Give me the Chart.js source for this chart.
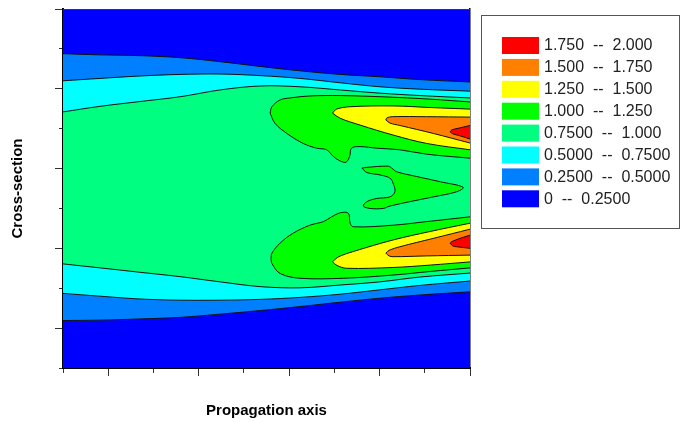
<!DOCTYPE html>
<html>
<head>
<meta charset="utf-8">
<script src="https://cdn.jsdelivr.net/npm/chart.js@4.4.0/dist/chart.umd.min.js"></script>
<style>
  body { margin: 0; background: #fff; }
  #wrap { width: 681px; height: 422px; }
</style>
</head>
<body>
<div id="wrap"><canvas id="contourChart" width="681" height="422"></canvas></div>
<script>
// tick positions along both axes (no labels shown), odd values get the long tick
const tickValues = [0, 1, 2, 3, 4, 5, 6, 7, 8, 9];
const majorTicks = [1, 3, 5, 7, 9];

// contour levels, lowest first
const levelLabels = ['0  --  0.2500', '0.2500  --  0.5000', '0.5000  --  0.7500', '0.7500  --  1.000',
                     '1.000  --  1.250', '1.250  --  1.500', '1.500  --  1.750', '1.750  --  2.000'];
const levelColors = ['#0000FF', '#0080FF', '#00FFFF', '#00FF80', '#00FF00', '#FFFF00', '#FF8000', '#FF0000'];

// contour lines [propagation, cross-section]
const domainTop = [[0, 9], [9, 9]];
const c025Top = [[0, 7.88], [0.82, 7.85], [1.70, 7.83], [2.59, 7.78], [3.47, 7.68], [4.36, 7.56], [5.24, 7.45], [6.13, 7.36], [7.01, 7.30], [7.89, 7.23], [9, 7.17]];
const c025Bot = [[0, 1.19], [0.82, 1.20], [1.70, 1.23], [2.59, 1.27], [3.47, 1.35], [4.36, 1.44], [5.24, 1.54], [6.13, 1.65], [7.01, 1.75], [7.89, 1.83], [9, 1.91]];
const c050Top = [[0, 7.20], [0.82, 7.26], [1.70, 7.32], [2.59, 7.36], [3.47, 7.37], [4.36, 7.33], [5.24, 7.26], [6.13, 7.15], [7.01, 7.05], [7.89, 6.99], [9, 6.94]];
const c050Bot = [[0, 1.87], [0.82, 1.80], [1.70, 1.73], [2.59, 1.70], [3.47, 1.70], [4.36, 1.72], [5.24, 1.77], [6.13, 1.85], [7.01, 1.96], [7.89, 2.07], [9, 2.18]];
const c075Top = [[0, 6.42], [0.82, 6.56], [1.70, 6.68], [2.59, 6.80], [3.47, 6.97], [4.36, 7.07], [5.24, 7.05], [6.13, 6.97], [7.01, 6.89], [7.89, 6.83], [9, 6.77]];
const c075Bot = [[0, 2.61], [0.82, 2.51], [1.70, 2.40], [2.59, 2.29], [3.47, 2.16], [4.36, 2.04], [5.24, 2.01], [6.13, 2.08], [7.01, 2.16], [7.89, 2.28], [9, 2.38]];

// upper lobes (Hi) and lower lobes (Lo), each as outer/inner edge from the tip to the right border
const c100HiOut = [[4.58, 6.39], [4.62, 6.55], [4.80, 6.72], [5.02, 6.77], [5.46, 6.82], [6.13, 6.83], [6.79, 6.81], [7.45, 6.78], [8.12, 6.74], [9, 6.67]];
const c100HiIn = [[4.58, 6.39], [4.69, 6.13], [4.95, 5.88], [5.31, 5.63], [5.61, 5.51], [5.83, 5.47], [5.98, 5.30], [6.13, 5.19], [6.26, 5.16], [6.34, 5.31],
                  [6.38, 5.51], [6.57, 5.55], [6.94, 5.51], [7.45, 5.47], [8.04, 5.36], [9, 5.26]];
const c100LoIn = [[4.60, 2.75], [4.62, 2.88], [4.80, 3.13], [5.09, 3.38], [5.46, 3.58], [5.76, 3.67], [5.94, 3.79], [6.13, 3.89], [6.31, 3.88], [6.35, 3.63],
                  [6.42, 3.54], [7.30, 3.58], [8.04, 3.67], [9, 3.79]];
const c100LoOut = [[4.60, 2.75], [4.62, 2.62], [4.80, 2.37], [5.24, 2.25], [6.20, 2.25], [7.30, 2.33], [8.12, 2.42], [9, 2.51]];
const c100Mid = [[6.61, 5.01], [6.72, 5.03], [7.19, 5.06], [7.27, 5.01], [7.38, 4.92], [7.82, 4.80], [8.34, 4.67], [8.85, 4.53], [8.71, 4.42], [8.19, 4.29], [7.67, 4.17], [7.23, 4.06],
                 [7.08, 4.00], [6.79, 4.00], [6.64, 4.06], [6.72, 4.17], [6.94, 4.25], [7.23, 4.29], [7.34, 4.42], [7.30, 4.63], [7.23, 4.76], [7.01, 4.84], [6.72, 4.90], [6.61, 5.01]];
const c125HiOut = [[5.96, 6.39], [6.05, 6.49], [6.35, 6.55], [7.30, 6.57], [8.12, 6.53], [9, 6.49]];
const c125HiIn = [[5.96, 6.39], [6.13, 6.26], [6.57, 6.09], [7.30, 5.84], [8.04, 5.63], [9, 5.47]];
const c125LoIn = [[5.96, 2.66], [6.08, 2.78], [6.42, 2.92], [7.30, 3.21], [8.19, 3.44], [9, 3.63]];
const c125LoOut = [[5.96, 2.66], [6.06, 2.57], [6.27, 2.50], [7.30, 2.52], [8.12, 2.58], [9, 2.66]];
const c150HiOut = [[7.14, 6.22], [7.16, 6.27], [7.28, 6.30], [8.04, 6.30], [9, 6.29]];
const c150HiIn = [[7.14, 6.22], [7.23, 6.14], [7.45, 6.08], [8.19, 5.88], [9, 5.64]];
const c150LoIn = [[7.14, 2.88], [7.21, 2.95], [7.45, 3.04], [8.19, 3.25], [9, 3.48]];
const c150LoOut = [[7.14, 2.88], [7.21, 2.81], [7.30, 2.79], [8.04, 2.81], [9, 2.83]];
const c175HiOut = [[8.56, 5.92], [8.60, 5.97], [8.78, 6.02], [9, 6.08]];
const c175HiIn = [[8.56, 5.92], [8.62, 5.87], [8.78, 5.82], [9, 5.74]];
const c175LoIn = [[8.56, 3.13], [8.60, 3.17], [8.78, 3.25], [9, 3.33]];
const c175LoOut = [[8.56, 3.13], [8.62, 3.06], [8.78, 3.03], [9, 3.00]];

// each region is filled between two lines (upper/lower) or inside a closed loop
const regions = [
    { level: 1, upper: c025Top, lower: c025Bot },
    { level: 2, upper: c050Top, lower: c050Bot },
    { level: 3, upper: c075Top, lower: c075Bot },
    { level: 4, upper: c100HiOut, lower: c100HiIn },
    { level: 4, loop: c100Mid },
    { level: 4, upper: c100LoIn, lower: c100LoOut },
    { level: 5, upper: c125HiOut, lower: c125HiIn },
    { level: 5, upper: c125LoIn, lower: c125LoOut },
    { level: 6, upper: c150HiOut, lower: c150HiIn },
    { level: 6, upper: c150LoIn, lower: c150LoOut },
    { level: 7, upper: c175HiOut, lower: c175HiIn },
    { level: 7, upper: c175LoIn, lower: c175LoOut }
];

const toXY = pts => pts.map(p => ({ x: p[0], y: p[1] }));
const isMajor = v => majorTicks.includes(v);
const titleFont = { family: '"Liberation Sans", Arial, sans-serif', size: 15, weight: 'bold' };

const datasets = [{
    data: toXY(domainTop), fill: 'start', backgroundColor: levelColors[0],
    borderColor: '#555', borderWidth: 1, tension: 0, pointRadius: 0, order: 10
}];
regions.forEach(r => {
    const base = { borderColor: '#111', borderWidth: 1, tension: 0.35, pointRadius: 0, order: 10 - r.level };
    if (r.loop) {
        datasets.push({ ...base, data: toXY(r.loop), fill: 'shape', backgroundColor: levelColors[r.level] });
    } else {
        datasets.push({ ...base, data: toXY(r.lower), fill: false });
        datasets.push({ ...base, data: toXY(r.upper), fill: '-1', backgroundColor: levelColors[r.level] });
    }
});

// boxed legend on the right, highest level on top
const legendBox = {
    id: 'legendBox',
    afterDraw(chart) {
        const ctx = chart.ctx;
        const left = chart.chartArea.right + 11;
        ctx.save();
        ctx.strokeStyle = '#555';
        ctx.lineWidth = 1;
        ctx.strokeRect(left + 0.5, 15.5, 198, 213);
        ctx.font = '16px "Liberation Sans", Arial, sans-serif';
        ctx.textBaseline = 'middle';
        for (let i = 0; i < levelLabels.length; i++) {
            const lvl = levelLabels.length - 1 - i;
            const y = 37 + i * 21.9;
            ctx.fillStyle = levelColors[lvl];
            ctx.fillRect(left + 21, y, 37, 17);
            ctx.fillStyle = '#222';
            ctx.fillText(levelLabels[lvl], left + 63, y + 9);
        }
        ctx.restore();
    }
};

new Chart(document.getElementById('contourChart'), {
    type: 'line',
    data: { datasets },
    options: {
        responsive: false, animation: false, events: [],
        layout: { padding: { top: 9, right: 211, bottom: 0, left: 0 } },
        plugins: { legend: { display: false }, tooltip: { enabled: false } },
        scales: {
            x: {
                type: 'linear', min: 0, max: 9, z: 1,
                afterBuildTicks: s => { s.ticks = tickValues.map(v => ({ value: v })); },
                ticks: { display: false },
                grid: { drawOnChartArea: false, tickLength: 8, tickColor: '#333', tickWidth: 1,
                        tickBorderDash: c => (c.tick && isMajor(c.tick.value)) ? [] : [4, 4] },
                border: { color: '#000', width: 2 },
                title: { display: true, text: 'Propagation axis', color: '#000', font: titleFont, padding: { top: 26, bottom: 2 } }
            },
            y: {
                type: 'linear', min: 0, max: 9, z: 1,
                afterBuildTicks: s => { s.ticks = tickValues.map(v => ({ value: v })); },
                ticks: { display: false },
                grid: { drawOnChartArea: false, tickLength: 8, tickColor: '#333', tickWidth: 1,
                        tickBorderDash: c => (c.tick && isMajor(c.tick.value)) ? [] : [4, 4],
                        tickBorderDashOffset: 4 },
                border: { color: '#000', width: 2 },
                title: { display: true, text: 'Cross-section', color: '#000', font: titleFont, padding: { top: 9, bottom: 28 } }
            },
            yRight: {
                type: 'linear', position: 'right', min: 0, max: 9, z: 1,
                ticks: { display: false },
                grid: { drawOnChartArea: false, drawTicks: false },
                border: { color: '#000', width: 1.5 }
            }
        }
    },
    plugins: [legendBox]
});
</script>
</body>
</html>
